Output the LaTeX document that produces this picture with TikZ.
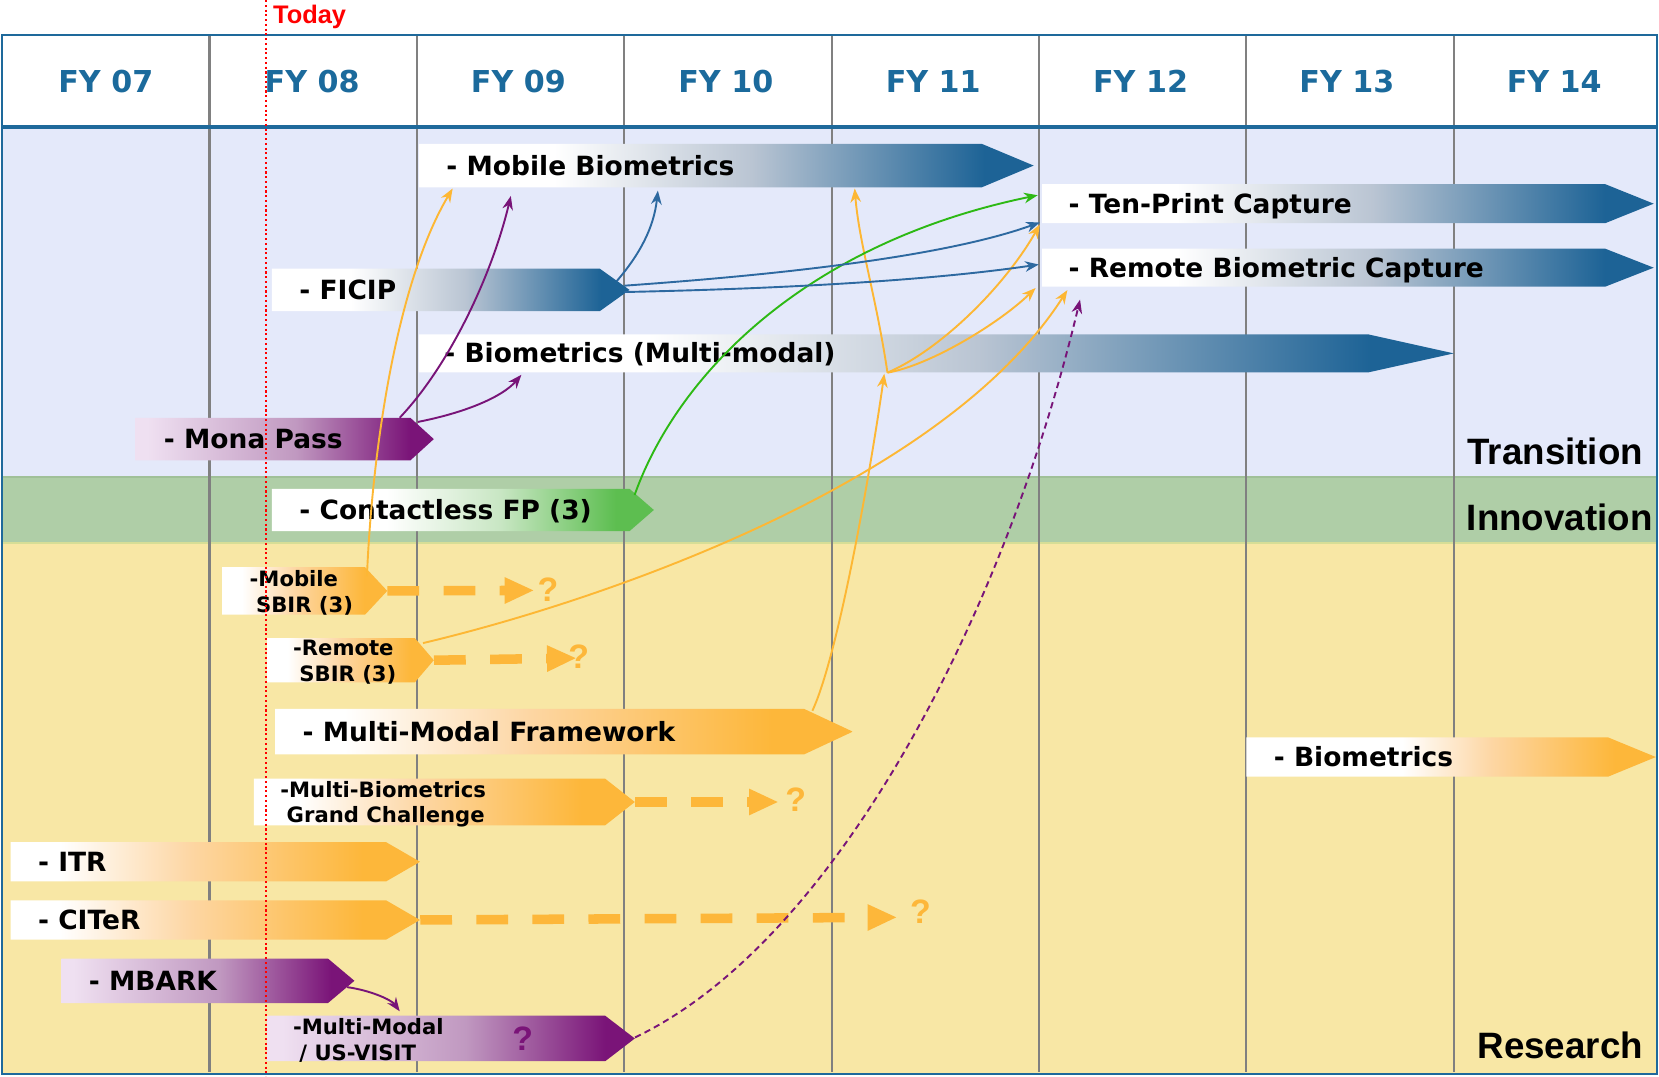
\documentclass[tikz,border=0pt]{standalone}
\usepackage{fontspec}
\setmainfont{DejaVu Sans}
\newfontfamily\lsans{Liberation Sans}
\usetikzlibrary{arrows.meta,calc,fit}
\definecolor{barblue}{RGB}{29,99,150}
\definecolor{bluemid}{RGB}{186,197,211}
\definecolor{barorange}{RGB}{253,183,58}
\definecolor{peach}{RGB}{253,214,163}
\definecolor{purpdark}{RGB}{122,20,120}
\definecolor{purpmid}{RGB}{192,152,192}
\definecolor{purplight}{RGB}{239,224,241}
\definecolor{bargreen}{RGB}{93,190,80}
\definecolor{greenmid}{RGB}{200,230,195}
\definecolor{transbg}{RGB}{228,233,250}
\definecolor{innobg}{RGB}{175,206,167}
\definecolor{innoline}{RGB}{160,192,152}
\definecolor{resline}{RGB}{215,222,150}
\definecolor{resbg}{RGB}{248,231,165}
\definecolor{hdrblue}{RGB}{30,105,155}
\definecolor{fyblue}{RGB}{27,106,156}
\definecolor{colgray}{RGB}{128,128,128}
\definecolor{oline}{RGB}{253,183,52}
\definecolor{bline}{RGB}{45,105,160}
\definecolor{pline}{RGB}{120,20,120}
\definecolor{gline}{RGB}{45,185,20}
\pgfdeclarehorizontalshading{shBlue}{100bp}{color(0bp)=(white); color(36bp)=(white); color(52bp)=(bluemid); color(71bp)=(barblue); color(100bp)=(barblue)}
\pgfdeclarehorizontalshading{shOrange}{100bp}{color(0bp)=(white); color(31bp)=(white); color(47bp)=(peach); color(68bp)=(barorange); color(100bp)=(barorange)}
\pgfdeclarehorizontalshading{shOrangeB}{100bp}{color(0bp)=(white); color(44bp)=(white); color(55bp)=(peach); color(70bp)=(barorange); color(100bp)=(barorange)}
\pgfdeclarehorizontalshading{shPurple}{100bp}{color(0bp)=(purplight); color(27bp)=(purplight); color(52bp)=(purpmid); color(71bp)=(purpdark); color(100bp)=(purpdark)}
\pgfdeclarehorizontalshading{shGreen}{100bp}{color(0bp)=(white); color(40bp)=(white); color(55bp)=(greenmid); color(70bp)=(bargreen); color(100bp)=(bargreen)}
\newcommand{\rbar}[7]{%
  \shade[shading=#7] (#2,#5) -- (#3,#5) -- (#4,{(#5+#6)/2}) -- (#3,#6) -- (#2,#6) -- cycle;
  \node[fit={(#2,#5) (#4,#6)}, inner sep=0pt] (#1) {};
}
\begin{document}
\begin{tikzpicture}[x=1pt,y=-1pt,
  bigl/.style={anchor=base west, inner sep=0pt, font=\bfseries\fontsize{25}{30}\selectfont},
  smalll/.style={anchor=west, inner sep=0pt, align=left, font=\bfseries\fontsize{20}{24}\selectfont},
  fylab/.style={anchor=base, inner sep=0pt, text=fyblue, font=\bfseries\fontsize{28.5}{32}\selectfont},
  zonelab/.style={anchor=base east, inner sep=0pt, font=\lsans\bfseries\fontsize{34.7}{40}\selectfont},
  qmark/.style={inner sep=0pt, text=barorange, font=\lsans\bfseries\fontsize{32}{36}\selectfont},
  colline/.style={draw=colgray, line width=2pt},
  thintip/.style={-{Stealth[length=13pt,width=10pt]}},
  oconn/.style={draw=oline, line width=1.8pt, thintip},
  bconn/.style={draw=bline, line width=1.8pt, thintip},
  pconn/.style={draw=pline, line width=1.8pt, thintip},
  gconn/.style={draw=gline, line width=1.8pt, thintip},
  darr/.style={draw=barorange, line width=9pt, dash pattern=on 30pt off 23pt, -{Triangle[length=28pt,width=23pt]}}
]
\useasboundingbox (0,0) rectangle (1568,1017);
% bands
\fill[transbg] (2,122) rectangle (1566,451);
\fill[innobg] (2,451) rectangle (1566,513);
\fill[resbg] (2,513) rectangle (1566,1015);
\draw[innoline, line width=1.5pt] (2,451) -- (1566,451);
\draw[resline, line width=1.5pt] (2,513) -- (1566,513);
\fill[white] (2,33) rectangle (1566,120);
% column lines
\foreach \x in {198,394,590,786,982,1178,1374} \draw[colline] (\x,33) -- (\x,1013);
% borders
\draw[hdrblue, line width=2pt] (2,33) rectangle (1566,1015);
\draw[hdrblue, line width=3.5pt] (2,120) -- (1566,120);
% FY labels
\foreach \i/\x in {07/100,08/295,09/490,10/686,11/882,12/1078,13/1273,14/1469}
  \node[fylab] (fy\i) at (\x,87) {FY \i};
% zone labels
\node[zonelab] (ztrans) at (1553,439) {Transition};
\node[zonelab] (zinno) at (1562,501) {Innovation};
\node[zonelab] (zres) at (1553,1000) {Research};
% bars
\rbar{mobbio}{396}{928}{977}{136}{177}{shBlue}
\node[bigl] (mobbio-t) at ($(mobbio.west)+(26,9)$) {- Mobile Biometrics};
\rbar{tpc}{985}{1517}{1563}{174}{211}{shBlue}
\node[bigl] (tpc-t) at ($(tpc.west)+(25,9)$) {- Ten-Print Capture};
\rbar{rbc}{985}{1517}{1563}{235}{271}{shBlue}
\node[bigl] (rbc-t) at ($(rbc.west)+(25,9)$) {- Remote Biometric Capture};
\rbar{ficip}{257}{567}{595}{254}{294}{shBlue}
\node[bigl] (ficip-t) at ($(ficip.west)+(26,9)$) {- FICIP};
\rbar{bmm}{396}{1293}{1374}{316}{352}{shBlue}
\node[bigl] (bmm-t) at ($(bmm.west)+(24,9)$) {- Biometrics (Multi-modal)};
\rbar{mona}{128}{388}{410}{395}{435}{shPurple}
\node[bigl] (mona-t) at ($(mona.west)+(27,9)$) {- Mona Pass};
\rbar{cfp}{257}{595}{618}{462}{502}{shGreen}
\node[bigl] (cfp-t) at ($(cfp.west)+(26,9)$) {- Contactless FP (3)};
\rbar{mobsbir}{210}{345}{366}{536}{581}{shOrange}
\node[smalll] (mobsbir-t) at ($(mobsbir.west)+(26,2)$) {-Mobile\\\hspace*{6pt}SBIR (3)};
\rbar{rsbir}{253}{392}{410}{603}{645}{shOrange}
\node[smalll] (rsbir-t) at ($(rsbir.west)+(24,2)$) {-Remote\\\hspace*{6pt}SBIR (3)};
\rbar{mmf}{260}{760}{806}{670}{713}{shOrange}
\node[bigl] (mmf-t) at ($(mmf.west)+(26,9)$) {- Multi-Modal Framework};
\rbar{gc}{240}{572}{600}{736}{780}{shOrange}
\node[smalll] (gc-t) at ($(gc.west)+(25,2)$) {-Multi-Biometrics\\\hspace*{6pt}Grand Challenge};
\rbar{itr}{10}{365}{397}{796}{833}{shOrange}
\node[bigl] (itr-t) at ($(itr.west)+(26,9)$) {- ITR};
\rbar{citer}{10}{365}{397}{851}{888}{shOrange}
\node[bigl] (citer-t) at ($(citer.west)+(26,9)$) {- CITeR};
\rbar{mbark}{58}{310}{335}{906}{948}{shPurple}
\node[bigl] (mbark-t) at ($(mbark.west)+(26,9)$) {- MBARK};
\rbar{usv}{253}{572}{600}{960}{1003}{shPurple}
\node[smalll] (usv-t) at ($(usv.west)+(24,2)$) {-Multi-Modal\\\hspace*{6pt}/ US-VISIT};
\node[qmark, text=purpdark] (usvq) at (494,982) {?};
\rbar{bior}{1178}{1520}{1565}{697}{734}{shOrangeB}
\node[bigl] (bior-t) at ($(bior.west)+(26,9)$) {- Biometrics};
% dashed thick arrows
\coordinate (d1) at (505,558);
\coordinate (d2) at (545,622);
\coordinate (d3) at (736,758);
\coordinate (d4) at (848,867);
\draw[darr] (mobsbir.east) -- (d1);
\draw[darr] (rsbir.east) -- (d2);
\draw[darr] (gc.east) -- (d3);
\draw[darr] (citer.east) -- (d4);
\node[qmark] (q1) at (518,557) {?};
\node[qmark] (q2) at (547,621) {?};
\node[qmark] (q3) at (752,756) {?};
\node[qmark] (q4) at (870,862) {?};
% orange connectors
\draw[oconn] ($(mobsbir.north west)+(137,9)$) .. controls (352,420) and (376,265) .. ($(mobbio.south west)+(32,1)$);
\draw[oconn] ($(mmf.north west)+(508,2)$) .. controls (792,620) and (822,450) .. ($(bmm.south west)+(440,1)$);
\draw[oconn] ($(bmm.south west)+(443,0)$) .. controls (828,280) and (812,230) .. ($(mobbio.south west)+(412,1)$);
\draw[oconn] ($(bmm.south west)+(443,0)$) .. controls (890,330) and (950,270) .. ($(tpc.south west)+(-2,1)$);
\draw[oconn] ($(bmm.south west)+(443,0)$) .. controls (880,345) and (945,305) .. ($(rbc.south west)+(-6,1)$);
\draw[oconn] ($(rsbir.north west)+(147,5)$) .. controls (560,570) and (890,460) .. ($(rbc.south west)+(24,3)$);
% green
\draw[gconn] ($(cfp.north west)+(343,6)$) .. controls (640,355) and (760,230) .. ($(tpc.west)+(-4,-8)$);
% blue
\draw[bconn] ($(ficip.north west)+(326,12)$) .. controls (605,240) and (618,215) .. ($(mobbio.south west)+(226,3)$);
\draw[bconn] ($(ficip.east)+(-5,-4)$) .. controls (760,258) and (900,240) .. ($(tpc.south west)+(-2,-1)$);
\draw[bconn] ($(ficip.east)+(-5,2)$) .. controls (780,272) and (900,262) .. ($(rbc.west)+(-3,-3)$);
% purple
\draw[pconn] ($(mona.north west)+(250,0)$) .. controls (425,345) and (465,260) .. ($(mobbio.south west)+(87,8)$);
\draw[pconn] ($(mona.north west)+(267,4)$) .. controls (440,390) and (475,375) .. ($(bmm.south west)+(97,2)$);
\draw[pconn] ($(mbark.east)+(-7,6)$) .. controls (350,936) and (370,945) .. ($(usv.north west)+(125,-4)$);
\draw[pconn, dash pattern=on 6pt off 4pt] ($(usv.east)+(0,-1)$) .. controls (790,890) and (950,580) .. ($(rbc.south west)+(36,12)$);
% today
\draw[red, line width=2pt, dash pattern=on 2pt off 2.5pt] (251,0) -- (251,1017);
\node[anchor=base west, inner sep=0pt, text=red, font=\lsans\bfseries\fontsize{24}{28}\selectfont] (today) at (258,22.6) {Today};
\end{tikzpicture}
\end{document}
